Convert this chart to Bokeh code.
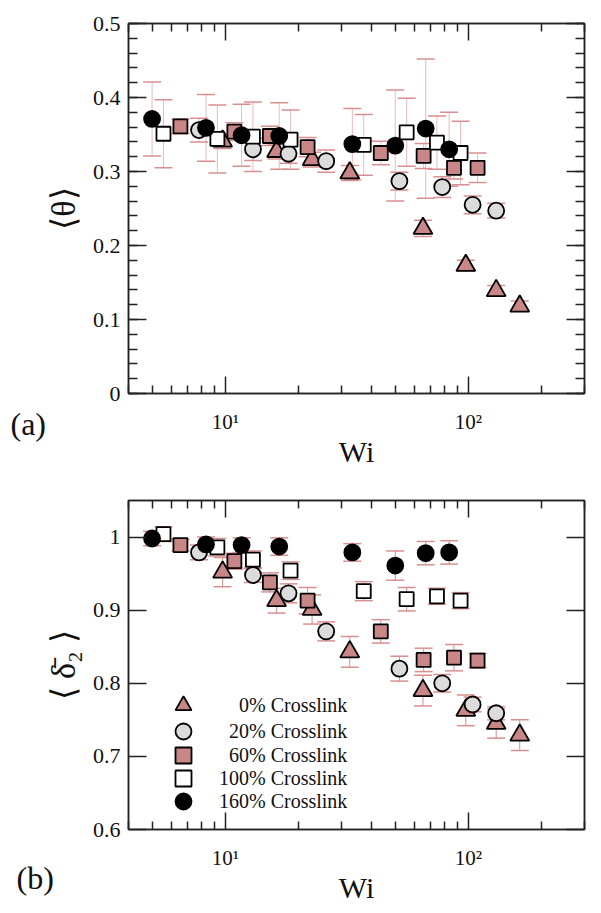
from bokeh.plotting import figure
from bokeh.layouts import column
from bokeh.models import (LogAxis, LinearAxis, FixedTicker, Whisker, TeeHead,
                          ColumnDataSource, Label, Legend, LegendItem)
from bokeh.embed import file_html
from bokeh.resources import INLINE

# ---------------- data ----------------
labels = ["\u2007\u20070% Crosslink", "\u200720% Crosslink", "\u200760% Crosslink",
          "100% Crosslink", "160% Crosslink"]

wi_0 = [9.75, 16.25, 22.75, 32.5, 65.0, 97.5, 130.0, 162.5]
wi_20 = [7.8, 13.0, 18.2, 26.0, 52.0, 78.0, 104.0, 130.0]
wi_60 = [6.54, 10.9, 15.26, 21.8, 43.6, 65.4, 87.2, 109.0]
wi_100 = [5.57, 9.28, 12.99, 18.55, 37.1, 55.7, 74.2, 92.8]
wi_160 = [5.0, 8.33, 11.67, 16.67, 33.3, 50.0, 66.7, 83.3]

theta_0 = [0.341, 0.327, 0.316, 0.298, 0.223, 0.173, 0.139, 0.118]
theta_0_err = [0.010, 0.010, 0.010, 0.010, 0.011, 0.007, 0.007, 0.007]
theta_20 = [0.356, 0.330, 0.324, 0.314, 0.287, 0.279, 0.255, 0.247]
theta_20_err = [0.016, 0.015, 0.013, 0.015, 0.012, 0.014, 0.012, 0.010]
theta_60 = [0.361, 0.354, 0.348, 0.333, 0.325, 0.321, 0.305, 0.305]
theta_60_err = [0.010, 0.012, 0.013, 0.013, 0.016, 0.017, 0.015, 0.020]
theta_100 = [0.351, 0.344, 0.347, 0.343, 0.336, 0.353, 0.339, 0.325]
theta_100_err = [0.046, 0.046, 0.047, 0.040, 0.041, 0.046, 0.036, 0.043]
theta_160 = [0.371, 0.359, 0.349, 0.348, 0.337, 0.335, 0.358, 0.330]
theta_160_err = [0.050, 0.045, 0.042, 0.045, 0.048, 0.075, 0.094, 0.050]

delta_0 = [0.952, 0.913, 0.901, 0.843, 0.790, 0.763, 0.745, 0.729]
delta_0_err = [0.020, 0.017, 0.020, 0.021, 0.021, 0.021, 0.020, 0.021]
delta_20 = [0.979, 0.948, 0.923, 0.871, 0.820, 0.800, 0.771, 0.759]
delta_20_err = [0.010, 0.010, 0.013, 0.013, 0.017, 0.012, 0.010, 0.009]
delta_60 = [0.989, 0.967, 0.938, 0.913, 0.871, 0.832, 0.835, 0.831]
delta_60_err = [0.008, 0.011, 0.013, 0.018, 0.016, 0.016, 0.018, 0.010]
delta_100 = [1.004, 0.986, 0.969, 0.954, 0.926, 0.915, 0.919, 0.913]
delta_100_err = [0.010, 0.012, 0.012, 0.012, 0.013, 0.016, 0.011, 0.011]
delta_160 = [0.998, 0.990, 0.989, 0.987, 0.979, 0.961, 0.978, 0.979]
delta_160_err = [0.010, 0.010, 0.010, 0.012, 0.012, 0.020, 0.016, 0.016]

x_major = [10, 100]
x_minor = [4, 5, 6, 7, 8, 9, 20, 30, 40, 50, 60, 70, 80, 90, 200, 300]
x_major_labels = {10: "10\u00b9", 100: "10\u00b2"}
y_top_major = [0, 0.1, 0.2, 0.3, 0.4, 0.5]
y_top_labels = {0: "0"}
y_bot_major = [0.6, 0.7, 0.8, 0.9, 1.0]
y_bot_labels = {1: "1"}

# ---------------- styles ----------------
FONT = "Liberation Serif"
INK = "#222222"
PINK = "#c98686"
GRAY = "#dcdcdc"
ERR = "#d98f8f"

styles = [
    dict(marker="triangle", size=19, fill_color=PINK),
    dict(marker="circle", size=16, fill_color=GRAY),
    dict(marker="square", size=14, fill_color=PINK),
    dict(marker="square", size=14, fill_color="white"),
    dict(marker="circle", size=16, fill_color="black"),
]


def style_axis(ax, major_in, minor_in, show_labels):
    ax.axis_line_color = INK
    ax.axis_line_width = 1.5
    ax.major_tick_line_color = INK
    ax.major_tick_line_width = 1.5
    ax.minor_tick_line_color = INK
    ax.minor_tick_line_width = 1.5
    ax.major_tick_in = major_in
    ax.major_tick_out = 0
    ax.minor_tick_in = minor_in
    ax.minor_tick_out = 0
    ax.major_label_text_font = FONT
    if show_labels:
        ax.major_label_text_font_size = "22px"
        ax.major_label_text_color = "#111111"
    else:
        ax.major_label_text_font_size = "1px"
        ax.major_label_text_alpha = 0
        ax.major_label_standoff = 0


def make_panel(y_range, y_major, y_minor, y_over, frame_h, b_top, b_bot, ylabel, xs, ys, errs, stem_alpha):
    p = figure(x_axis_type="log", x_range=(4, 300), y_range=y_range,
               frame_width=456, frame_height=frame_h,
               min_border_left=128, min_border_right=6,
               min_border_top=b_top, min_border_bottom=b_bot,
               output_backend="svg", toolbar_location=None)
    p.grid.visible = False
    p.outline_line_color = INK
    p.outline_line_width = 1.5
    p.outline_line_alpha = 1.0

    xt = FixedTicker(ticks=x_major, minor_ticks=x_minor)
    yt = FixedTicker(ticks=y_major, minor_ticks=y_minor)

    xa = p.xaxis[0]
    xa.ticker = xt
    xa.major_label_overrides = x_major_labels
    style_axis(xa, 17, 8, True)
    xa.major_label_text_font_size = "21px"
    xa.major_label_standoff = 16
    xa.axis_label = "Wi"
    xa.axis_label_text_font = FONT
    xa.axis_label_text_font_style = "normal"
    xa.axis_label_text_font_size = "30px"
    xa.axis_label_text_color = "#111111"
    xa.axis_label_standoff = -2

    ya = p.yaxis[0]
    ya.ticker = yt
    ya.major_label_overrides = y_over
    style_axis(ya, 18, 9, True)
    ya.major_label_standoff = 8
    ya.axis_label = ylabel
    ya.axis_label_text_font = FONT
    ya.axis_label_text_font_style = "normal"
    ya.axis_label_text_font_size = "34px"
    ya.axis_label_text_color = "#111111"
    ya.axis_label_standoff = 8

    top_ax = LogAxis(ticker=FixedTicker(ticks=x_major, minor_ticks=x_minor))
    style_axis(top_ax, 17, 8, False)
    p.add_layout(top_ax, "above")
    right_ax = LinearAxis(ticker=FixedTicker(ticks=y_major, minor_ticks=y_minor))
    style_axis(right_ax, 18, 9, False)
    p.add_layout(right_ax, "right")

    renderers = []
    for x, y, e in zip(xs, ys, errs):
        src = ColumnDataSource(dict(x=x, y=y,
                                    upper=[a + b for a, b in zip(y, e)],
                                    lower=[a - b for a, b in zip(y, e)]))
        w = Whisker(source=src, base="x", upper="upper", lower="lower", dimension="height",
                    line_color=ERR, line_width=1, line_alpha=stem_alpha,
                    upper_head=TeeHead(size=18, line_color=ERR, line_width=1.5),
                    lower_head=TeeHead(size=18, line_color=ERR, line_width=1.5))
        p.add_layout(w)
    for x, y, st in zip(xs, ys, styles):
        r = p.scatter(x=x, y=y, marker=st["marker"], size=st["size"],
                      fill_color=st["fill_color"], line_color="black", line_width=1.8)
        renderers.append(r)
    return p, renderers


xs = [wi_0, wi_20, wi_60, wi_100, wi_160]

p1, _ = make_panel((0, 0.5), y_top_major, [i * 0.02 for i in range(26)], y_top_labels,
                   370, 23, 70, "\u27e8\u03b8\u27e9", xs,
                   [theta_0, theta_20, theta_60, theta_100, theta_160],
                   [theta_0_err, theta_20_err, theta_60_err, theta_100_err, theta_160_err], 0.6)
p1.add_layout(Label(x=5, y=-30, x_units="screen", y_units="screen", text="(a)",
                    text_font=FONT, text_font_size="32px", text_baseline="middle",
                    text_color="#111111"), "left")

p2, rends = make_panel((0.6, 1.05), y_bot_major, [], y_bot_labels,
                       329, 30, 72, "\u27e8 \u03b4\u0304\u2082 \u27e9", xs,
                       [delta_0, delta_20, delta_60, delta_100, delta_160],
                       [delta_0_err, delta_20_err, delta_60_err, delta_100_err, delta_160_err], 1.0)
p2.add_layout(Label(x=12, y=-48, x_units="screen", y_units="screen", text="(b)",
                    text_font=FONT, text_font_size="32px", text_baseline="middle",
                    text_color="#111111"), "left")

legend_bottoms = [104, 78, 54, 31, 8]
for lab, r, yb in zip(labels, rends, legend_bottoms):
    lg = Legend(items=[LegendItem(label=lab, renderers=[r])],
                location=(35, yb), glyph_width=40, glyph_height=40,
                padding=0, margin=0, border_line_color=None, background_fill_alpha=0,
                label_text_font=FONT, label_text_font_size="20px", label_standoff=16,
                label_height=20, label_text_color="#111111")
    p2.add_layout(lg)

layout = column(p1, p2, spacing=0)
open("out.html", "w").write(file_html(layout, INLINE))
